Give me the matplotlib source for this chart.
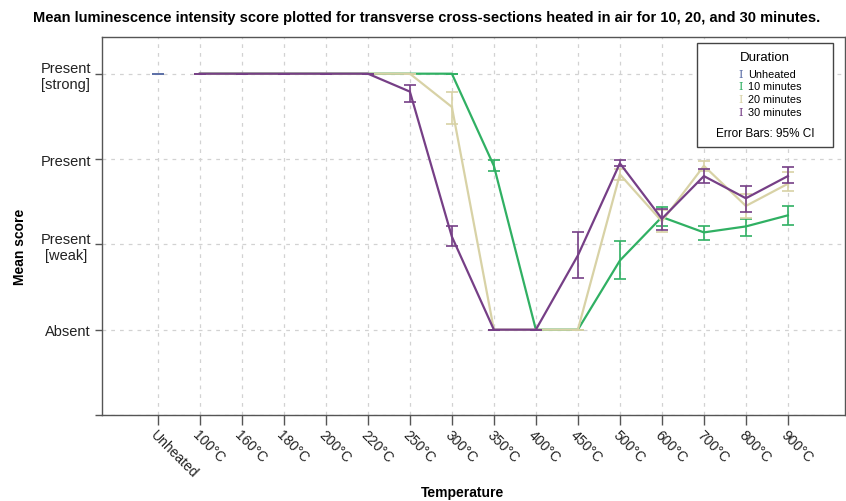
import numpy as np
import matplotlib
matplotlib.use("Agg")
import matplotlib.pyplot as plt
from matplotlib.patches import Rectangle

plt.rcParams['font.family'] = ['Liberation Sans', 'DejaVu Sans']

temps = ["Unheated", "100°C", "160°C", "180°C", "200°C", "220°C", "250°C", "300°C",
         "350°C", "400°C", "450°C", "500°C", "600°C", "700°C", "800°C", "900°C"]
score_labels = ["", "Absent", "Present\n[weak]", "Present", "Present\n[strong]"]
score_ticks = [-1, 0, 1, 2, 3]
nan = np.nan

# mean score, lower and upper 95% CI per duration
unheated = [3] + [nan] * 15
unheated_lo = [3] + [nan] * 15
unheated_hi = [3] + [nan] * 15

min10 = [nan, 3, 3, 3, 3, 3, 3, 3, 1.92, 0, 0, 0.81, 1.32, 1.14, 1.21, 1.34]
min10_lo = [nan, 3, 3, 3, 3, 3, 3, 3, 1.86, 0, 0, 0.59, 1.21, 1.05, 1.10, 1.23]
min10_hi = [nan, 3, 3, 3, 3, 3, 3, 3, 1.99, 0, 0, 1.04, 1.44, 1.22, 1.30, 1.45]

min20 = [nan, 3, 3, 3, 3, 3, 3, 2.61, 0, 0, 0, 1.82, 1.27, 1.92, 1.45, 1.71]
min20_lo = [nan, 3, 3, 3, 3, 3, 3, 2.41, 0, 0, 0, 1.75, 1.15, 1.86, 1.31, 1.62]
min20_hi = [nan, 3, 3, 3, 3, 3, 3, 2.79, 0, 0, 0, 1.88, 1.40, 1.98, 1.59, 1.85]

min30 = [nan, 3, 3, 3, 3, 3, 2.79, 1.09, 0, 0, 0.87, 1.95, 1.30, 1.80, 1.54, 1.80]
min30_lo = [nan, 3, 3, 3, 3, 3, 2.67, 0.98, 0, 0, 0.60, 1.92, 1.17, 1.72, 1.38, 1.72]
min30_hi = [nan, 3, 3, 3, 3, 3, 2.87, 1.22, 0, 0, 1.15, 1.99, 1.42, 1.88, 1.68, 1.91]

series = [
    ("Unheated", unheated, unheated_lo, unheated_hi, "#5b6ea6"),
    ("10 minutes", min10, min10_lo, min10_hi, "#30b063"),
    ("20 minutes", min20, min20_lo, min20_hi, "#d8d2a6"),
    ("30 minutes", min30, min30_lo, min30_hi, "#763f86"),
]

fig = plt.figure(figsize=(8.46, 5.02), dpi=100)
ax = fig.add_axes([102 / 846, 1 - 416 / 502, 743 / 846, 378 / 502])

x = np.arange(len(temps))
for i, (name, m, lo, hi, col) in enumerate(series):
    m = np.array(m, float)
    err = np.vstack([m - np.array(lo, float), np.array(hi, float) - m])
    ax.plot(x, m, color=col, lw=1.6, zorder=2 + i)
    ax.errorbar(x, m, yerr=err, fmt='none', ecolor=col, elinewidth=1.2,
                capsize=4.3, capthick=1.2, zorder=2 + i)

ax.set_xlim(-1.33, 16.36)
ax.set_ylim(-1, 3.43)
ax.set_xticks(x)
ax.set_xticklabels(temps, rotation=-45, ha='left', va='top',
                   rotation_mode='anchor', fontsize=10, color='#222222')
ax.set_yticks(score_ticks)
ax.set_yticklabels(score_labels, fontsize=10.5, color='#222222')
for t in ax.get_yticklabels():
    t.set_multialignment('center')
ax.tick_params(axis='x', length=7, width=1, color='#555555', pad=2)
ax.tick_params(axis='y', length=5, width=1, color='#555555', pad=3)

ax.grid(True, color='#d2d2d2', linestyle=(0, (3, 4)), linewidth=0.9)
ax.set_axisbelow(True)
for s in ax.spines.values():
    s.set_color('#555555')
    s.set_linewidth(1.0)

fig.text(427 / 846, 1 - 18 / 502,
         "Mean luminescence intensity score plotted for transverse cross-sections heated in air for 10, 20, and 30 minutes.",
         ha='center', va='center', fontsize=10.5, fontweight='bold')
fig.text(20 / 846, 1 - 247 / 502, "Mean score", rotation=90, ha='center',
         va='center', fontsize=10, fontweight='bold')
fig.text(462 / 846, 1 - 493 / 502, "Temperature", ha='center', va='center',
         fontsize=10, fontweight='bold')

# legend box
W, H = 846, 502
fig.patches.append(Rectangle((697 / W, 1 - 148 / H), 136 / W, 104 / H,
                             transform=fig.transFigure, facecolor='white',
                             edgecolor='#444444', linewidth=1.0, zorder=10))
fig.text(765 / W, 1 - 58 / H, "Duration", ha='center', va='center',
         fontsize=9.5, zorder=11)
for k, (name, m, lo, hi, col) in enumerate(series):
    yy = 1 - (75 + k * 12.5) / H
    fig.text(741 / W, yy, "I", family='DejaVu Serif', color=col, ha='center',
             va='center', fontsize=8, zorder=11)
    fig.text(748 / W, yy, name, ha='left', va='center', fontsize=7.8, zorder=11)
fig.text(765 / W, 1 - 134 / H, "Error Bars: 95% CI", ha='center', va='center',
         fontsize=8.5, zorder=11)

fig.savefig("out.png", dpi=100)
